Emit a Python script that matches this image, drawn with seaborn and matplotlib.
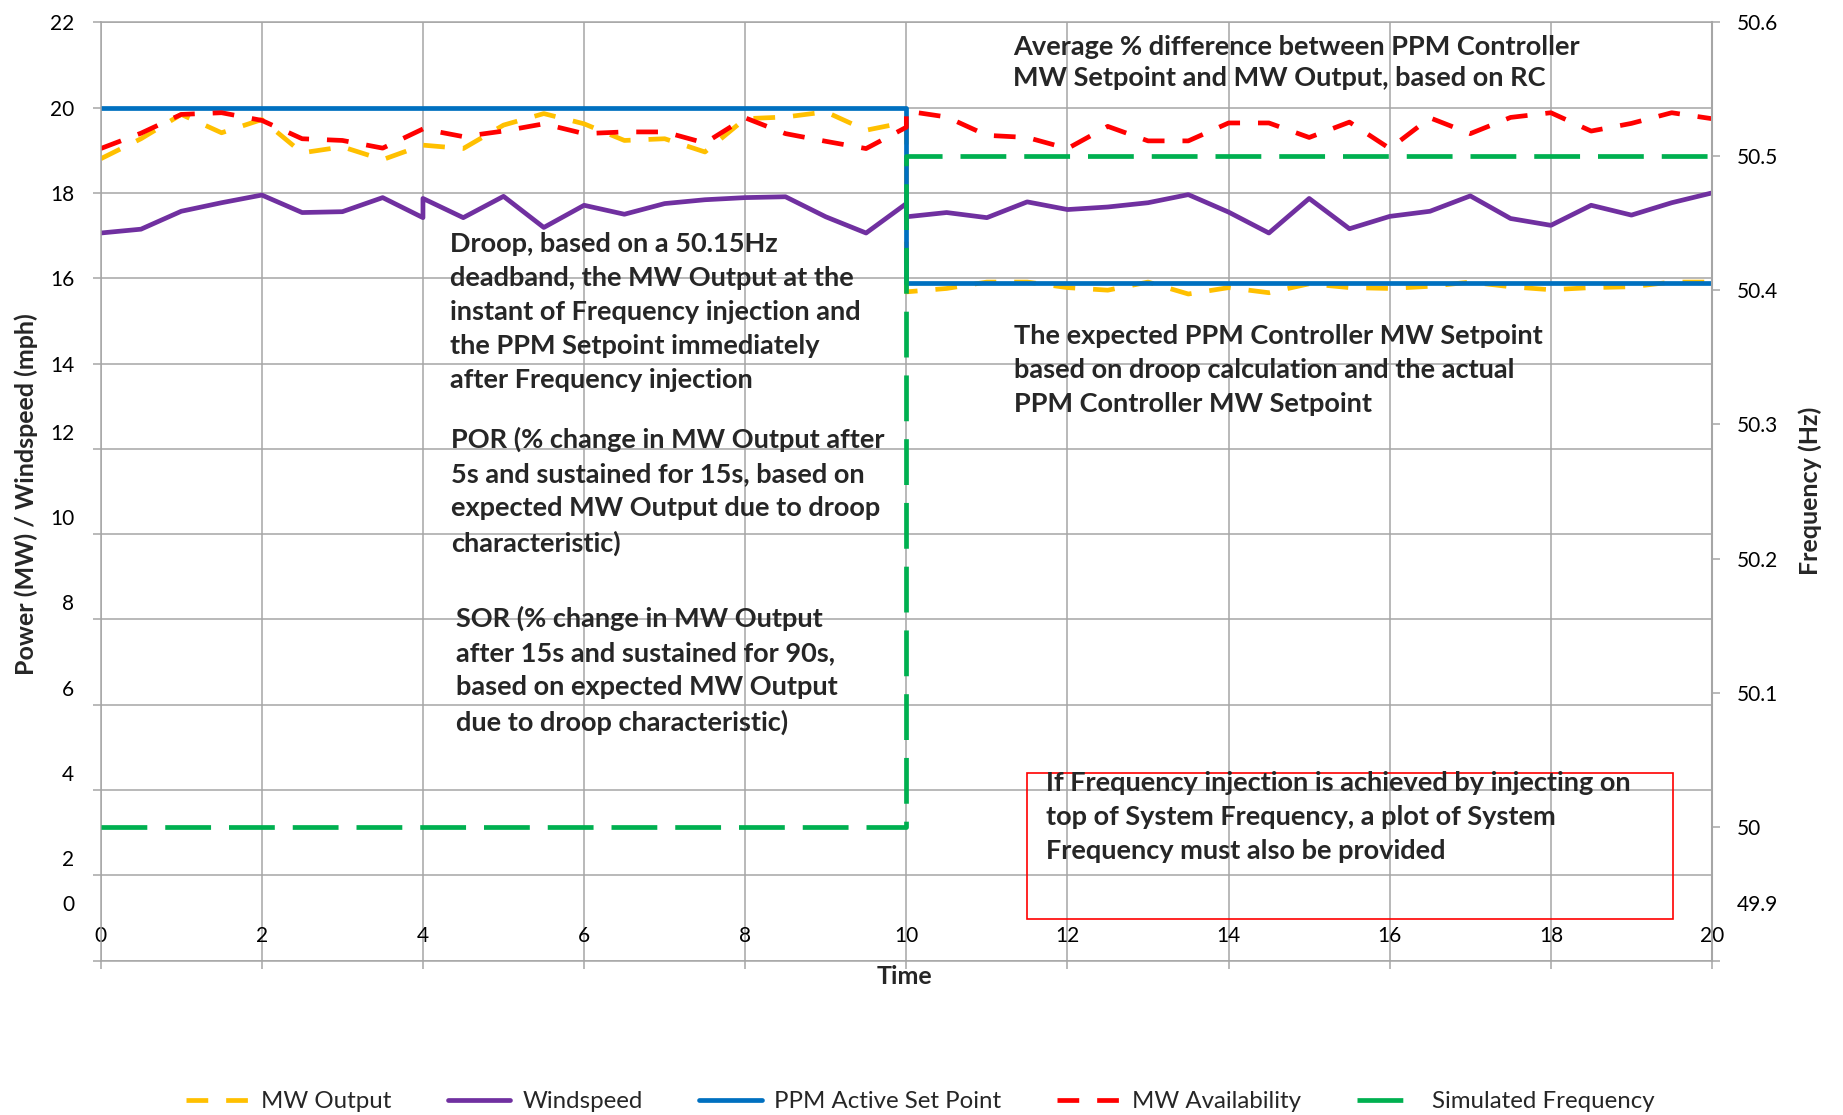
import matplotlib
matplotlib.use("Agg")
import matplotlib.pyplot as plt
import matplotlib.transforms as mtransforms
from matplotlib.patches import Rectangle
import seaborn as sns

# time (s); a repeated time is where a series steps
t_output = [0, 0.5, 1, 1.5, 2, 2.5, 3, 3.5, 4, 4.5, 5, 5.5, 6, 6.5, 7, 7.5, 8, 8.5, 9, 9.5, 10,
            10, 10.5, 11, 11.5, 12, 12.5, 13, 13.5, 14, 14.5, 15, 15.5, 16, 16.5, 17, 17.5, 18, 18.5, 19, 19.5, 20]
mw_output = [18.80, 19.27, 19.84, 19.41, 19.72, 18.94, 19.08, 18.78, 19.12, 19.04, 19.59, 19.86, 19.62, 19.23,
             19.27, 18.96, 19.74, 19.78, 19.90, 19.47, 19.66,
             15.68, 15.76, 15.91, 15.91, 15.78, 15.72, 15.91, 15.63, 15.78, 15.66, 15.87, 15.78, 15.76, 15.81,
             15.91, 15.80, 15.73, 15.78, 15.80, 15.91, 15.91]
mw_availability = [19.04, 19.40, 19.84, 19.88, 19.70, 19.27, 19.23, 19.05, 19.50, 19.32, 19.45, 19.62, 19.39,
                   19.43, 19.43, 19.17, 19.76, 19.39, 19.21, 19.04, 19.54,
                   19.92, 19.78, 19.35, 19.30, 19.04, 19.56, 19.22, 19.22, 19.64, 19.64, 19.30, 19.66, 19.04,
                   19.76, 19.39, 19.77, 19.88, 19.45, 19.63, 19.88, 19.74]
t_wind = [0, 0.5, 1, 1.5, 2, 2.5, 3, 3.5, 4, 4, 4.5, 5, 5.5, 6, 6.5, 7, 7.5, 8, 8.5, 9, 9.5, 10,
          10, 10.5, 11, 11.5, 12, 12.5, 13, 13.5, 14, 14.5, 15, 15.5, 16, 16.5, 17, 17.5, 18, 18.5, 19, 19.5, 20]
windspeed = [17.06, 17.15, 17.57, 17.77, 17.95, 17.54, 17.56, 17.89, 17.42, 17.87, 17.42, 17.92, 17.19, 17.71,
             17.50, 17.75, 17.84, 17.89, 17.91, 17.44, 17.06, 17.75,
             17.44, 17.54, 17.42, 17.79, 17.61, 17.67, 17.77, 17.96, 17.55, 17.06, 17.87, 17.16, 17.45, 17.57,
             17.93, 17.40, 17.24, 17.71, 17.48, 17.77, 18.00]
t_step = [0, 10, 10, 20]
ppm_setpoint = [20, 20, 15.88, 15.88]
sim_frequency = [50.0, 50.0, 50.5, 50.5]

time_ticks = [0, 2, 4, 6, 8, 10, 12, 14, 16, 18, 20]
power_ticks = [0, 2, 4, 6, 8, 10, 12, 14, 16, 18, 20, 22]
freq_ticks = [49.9, 50.0, 50.1, 50.2, 50.3, 50.4, 50.5, 50.6]
freq_labels = ["49.9", "50", "50.1", "50.2", "50.3", "50.4", "50.5", "50.6"]

sns.set_style("white")
plt.rcParams["font.family"] = ["Lato", "DejaVu Sans"]

grey = "#A6A6A6"
dash = (0, (4.6, 3.8))
long_dash = (0, (9.7, 3.8))

fig = plt.figure(figsize=(18.43, 11.15), dpi=100)
ax = fig.add_axes([0.05464, 0.13839, 0.87428, 0.84161])
ax2 = ax.twinx()

common = dict(estimator=None, sort=False, legend=False, lw=3.4)
sns.lineplot(x=t_output, y=mw_output, ax=ax, color="#FFC000", linestyle=dash, label="MW Output", **common)
sns.lineplot(x=t_wind, y=windspeed, ax=ax, color="#7030A0", label="Windspeed", **common)
sns.lineplot(x=t_step, y=ppm_setpoint, ax=ax, color="#0070C0", label="PPM Active Set Point", **common)
sns.lineplot(x=t_output, y=mw_availability, ax=ax, color="#FF0000", linestyle=dash, label="MW Availability", **common)
sns.lineplot(x=t_step, y=sim_frequency, ax=ax2, color="#00B050", linestyle=long_dash,
             label="Simulated Frequency", **common)

ax.set_xlim(0, 20)
ax.set_ylim(0, 22)
ax.set_xticks(time_ticks)
ax.set_yticks(power_ticks)
ax2.set_ylim(49.9, 50.6)
ax2.set_yticks(freq_ticks)
ax2.set_yticklabels(freq_labels)
ax.set_xlabel("")
ax.set_ylabel("")
ax2.set_ylabel("")

ax.grid(True, color=grey, lw=1.1)
for s in ax.spines.values():
    s.set_color(grey)
    s.set_linewidth(1.1)
for name in ["left", "top", "bottom"]:
    ax2.spines[name].set_visible(False)
ax2.spines["right"].set_color(grey)
ax2.spines["right"].set_linewidth(1.5)

ax.tick_params(axis="both", bottom=True, left=True, direction="out", length=6, width=1.1,
               color=grey, labelsize=15, labelcolor="black")
ax.tick_params(axis="y", pad=13)
ax2.tick_params(axis="y", right=True, direction="out", length=6, width=1.1, color=grey,
                labelsize=15, labelcolor="black", pad=12)


def lift_labels(axis, lifts):
    # the source chart draws some tick labels above their ticks
    for tick, lift in zip(axis.get_major_ticks(), lifts):
        shift = mtransforms.ScaledTranslation(0, lift / 100, fig.dpi_scale_trans)
        tick.label1.set_transform(tick.label1.get_transform() + shift)
        tick.label2.set_transform(tick.label2.get_transform() + shift)


lift_labels(ax.xaxis, [48] * len(time_ticks))
lift_labels(ax.yaxis, [58, 17, 17, 17, 17, 17, 17, 0, 0, 0, 0, 0])
lift_labels(ax2.yaxis, [58, 0, 0, 0, 0, 0, 0, 0])

fig.text(0.0141, 0.557, "Power (MW) / Windspeed (mph)", rotation=90, ha="center", va="center",
         fontsize=18, fontweight="bold")
fig.text(0.982, 0.5596, "Frequency (Hz)", rotation=90, ha="center", va="center",
         fontsize=18, fontweight="bold")
fig.text(0.491, 0.1238, "Time", ha="center", va="center", fontsize=18, fontweight="bold")

note = dict(fontsize=19.5, fontweight="bold", ha="left", va="center", linespacing=1.5)
ax.text(11.32, 21.05, "Average % difference between PPM Controller\nMW Setpoint and MW Output, based on RC",
        **{**note, "linespacing": 1.35})
ax.text(4.33, 15.2, "Droop, based on a 50.15Hz\ndeadband, the MW Output at the\ninstant of Frequency injection and\n"
        "the PPM Setpoint immediately\nafter Frequency injection", **note)
ax.text(4.35, 11.0, "POR (% change in MW Output after\n5s and sustained for 15s, based on\n"
        "expected MW Output due to droop\ncharacteristic)", **note)
ax.text(4.41, 6.8, "SOR (% change in MW Output\nafter 15s and sustained for 90s,\n"
        "based on expected MW Output\ndue to droop characteristic)", **note)
ax.text(11.33, 13.84, "The expected PPM Controller MW Setpoint\nbased on droop calculation and the actual\n"
        "PPM Controller MW Setpoint", **note)
ax.text(11.73, 3.36, "If Frequency injection is achieved by injecting on\ntop of System Frequency, a plot of System\n"
        "Frequency must also be provided", **note)
ax.add_patch(Rectangle((11.5, 0.98), 8.01, 3.42, fill=False, edgecolor="red", lw=1.2))

h1, l1 = ax.get_legend_handles_labels()
h2, l2 = ax2.get_legend_handles_labels()
fig.legend(h1 + h2, l1 + l2, loc="center", bbox_to_anchor=(0.4994, 0.012), ncol=5, frameon=False,
           fontsize=17.3, handlelength=2.6, handletextpad=0.5, columnspacing=2.35)

fig.savefig("out.png", dpi=100)
